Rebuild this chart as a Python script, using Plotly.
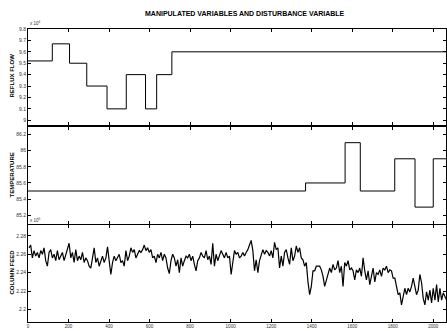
import numpy as np
import plotly.graph_objects as go

# ---- data ----
reflux_t = [0, 120, 205, 290, 390, 485, 580, 635, 710, 2066]
reflux_v = [9.52, 9.67, 9.5, 9.3, 9.1, 9.4, 9.1, 9.4, 9.6, 9.6]

temp_t = [0, 1370, 1565, 1640, 1810, 1910, 2000, 2066]
temp_v = [85.5, 85.6, 86.1, 85.5, 85.9, 85.3, 85.9, 85.9]

feed_v = [
    2.267, 2.270, 2.256, 2.264, 2.258, 2.262, 2.256, 2.264, 2.260, 2.267,
    2.253, 2.247, 2.262, 2.265, 2.256, 2.260, 2.253, 2.264, 2.254, 2.258,
    2.262, 2.253, 2.260, 2.267, 2.272, 2.256, 2.262, 2.251, 2.265, 2.253,
    2.258, 2.254, 2.262, 2.251, 2.256, 2.253, 2.247, 2.245, 2.258, 2.267,
    2.251, 2.256, 2.247, 2.253, 2.258, 2.251, 2.256, 2.268, 2.249, 2.238,
    2.251, 2.258, 2.253, 2.256, 2.260, 2.251, 2.253, 2.247, 2.264, 2.253,
    2.258, 2.267, 2.262, 2.265, 2.256, 2.260, 2.264, 2.262, 2.265, 2.270,
    2.264, 2.267, 2.262, 2.265, 2.256, 2.258, 2.251, 2.260, 2.256, 2.262,
    2.253, 2.260, 2.256, 2.245, 2.239, 2.253, 2.260, 2.256, 2.247, 2.254,
    2.240, 2.256, 2.247, 2.253, 2.258, 2.256, 2.260, 2.253, 2.258, 2.249,
    2.242, 2.253, 2.256, 2.262, 2.258, 2.256, 2.264, 2.254, 2.258, 2.249,
    2.272, 2.247, 2.260, 2.253, 2.258, 2.264, 2.260, 2.256, 2.262, 2.256,
    2.258, 2.238, 2.251, 2.264, 2.260, 2.262, 2.256, 2.258, 2.262, 2.258,
    2.262, 2.265, 2.270, 2.275, 2.264, 2.242, 2.254, 2.240, 2.253, 2.258,
    2.265, 2.260, 2.264, 2.262, 2.258, 2.264, 2.256, 2.273, 2.265, 2.267,
    2.245, 2.258, 2.247, 2.262, 2.265, 2.256, 2.249, 2.267, 2.253, 2.258,
    2.269, 2.262, 2.267, 2.256, 2.254, 2.247, 2.251, 2.230, 2.216, 2.225,
    2.242, 2.242, 2.247, 2.247, 2.247, 2.243, 2.236, 2.225, 2.232, 2.240,
    2.245, 2.240, 2.249, 2.243, 2.245, 2.253, 2.240, 2.247, 2.225, 2.251,
    2.247, 2.253, 2.243, 2.245, 2.242, 2.232, 2.243, 2.240, 2.245, 2.236,
    2.256, 2.242, 2.232, 2.242, 2.227, 2.236, 2.245, 2.230, 2.240, 2.238,
    2.243, 2.236, 2.245, 2.243, 2.247, 2.240, 2.243, 2.242, 2.234, 2.234,
    2.223, 2.216, 2.218, 2.205, 2.214, 2.223, 2.216, 2.223, 2.219, 2.225,
    2.234, 2.223, 2.216, 2.221, 2.238, 2.229, 2.212, 2.205, 2.219, 2.210,
    2.221, 2.207, 2.223, 2.210, 2.227, 2.208, 2.223, 2.210, 2.218, 2.214,
    2.210,
]
feed_t = np.linspace(5, 2066, len(feed_v))

x_ticks = [0, 200, 400, 600, 800, 1000, 1200, 1400, 1600, 1800, 2000]
reflux_ticks = [9.0, 9.1, 9.2, 9.3, 9.4, 9.5, 9.6, 9.7, 9.8]
reflux_ticktext = ["9", "9.1", "9.2", "9.3", "9.4", "9.5", "9.6", "9.7", "9.8"]
temp_ticks = [85.2, 85.4, 85.6, 85.8, 86.0, 86.2]
temp_ticktext = ["85.2", "85.4", "85.6", "85.8", "86", "86.2"]
feed_ticks = [2.20, 2.22, 2.24, 2.26, 2.28]
feed_ticktext = ["2.2", "2.22", "2.24", "2.26", "2.28"]

FONT = "Liberation Sans, Arial, sans-serif"

fig = go.Figure()
fig.add_trace(go.Scatter(x=reflux_t, y=reflux_v, mode="lines", line=dict(color="black", width=1, shape="hv"),
                         xaxis="x", yaxis="y", showlegend=False, hoverinfo="skip"))
fig.add_trace(go.Scatter(x=temp_t, y=temp_v, mode="lines", line=dict(color="black", width=1, shape="hv"),
                         xaxis="x2", yaxis="y2", showlegend=False, hoverinfo="skip"))
fig.add_trace(go.Scatter(x=feed_t, y=feed_v, mode="lines", line=dict(color="black", width=1.2),
                         xaxis="x3", yaxis="y3", showlegend=False, hoverinfo="skip"))

common_axis = dict(showline=True, linecolor="black", linewidth=1, mirror="allticks",
                   ticks="inside", ticklen=3, tickwidth=0.8, tickcolor="black",
                   showgrid=False, zeroline=False)
xr = [0, 2063]
tickfont = dict(family=FONT, size=5, color="#333")

fig.update_layout(
    width=447, height=331,
    margin=dict(l=28, r=1, t=29, b=9),
    paper_bgcolor="white", plot_bgcolor="white",
    xaxis=dict(domain=[0, 1], anchor="y", range=xr, tickvals=x_ticks, showticklabels=False, **common_axis),
    xaxis2=dict(domain=[0, 1], anchor="y2", range=xr, tickvals=x_ticks, showticklabels=False, **common_axis),
    xaxis3=dict(domain=[0, 1], anchor="y3", range=xr, tickvals=x_ticks, showticklabels=True,
                tickfont=dict(family=FONT, size=4.5, color="#333"), **common_axis),
    yaxis=dict(domain=[0.671, 1.0], anchor="x", range=[8.955, 9.8], tickvals=reflux_ticks,
               ticktext=reflux_ticktext, tickfont=tickfont, **common_axis),
    yaxis2=dict(domain=[0.336, 0.667], anchor="x2", range=[85.096, 86.30], tickvals=temp_ticks,
                ticktext=temp_ticktext, tickfont=tickfont, **common_axis),
    yaxis3=dict(domain=[0.0, 0.331], anchor="x3", range=[2.1863, 2.2918], tickvals=feed_ticks,
                ticktext=feed_ticktext, tickfont=tickfont, **common_axis),
)

title_font = dict(family=FONT, size=7, color="black")
ylab_font = dict(family=FONT, size=6, color="black")
ann = [
    dict(text="<b>MANIPULATED VARIABLES AND DISTURBANCE VARIABLE</b>", x=245 / 447, y=1 - 14 / 331,
         font=title_font),
    dict(text="<b>REFLUX FLOW</b>", x=11.5 / 447, y=1 - 76 / 331, textangle=-90, font=ylab_font),
    dict(text="<b>TEMPERATURE</b>", x=11.5 / 447, y=1 - 175 / 331, textangle=-90, font=ylab_font),
    dict(text="<b>COLUMN FEED</b>", x=11.5 / 447, y=1 - 272 / 331, textangle=-90, font=ylab_font),
    dict(text="x 10<sup>4</sup>", x=28 / 447, y=1 - 23 / 331, xanchor="left",
         font=dict(family=FONT, size=4.5, color="#333")),
    dict(text="x 10<sup>5</sup>", x=28 / 447, y=1 - 220 / 331, xanchor="left",
         font=dict(family=FONT, size=4.5, color="#333")),
]
pl, pr, pt, pb = 28, 1, 29, 9
pw, ph = 447 - pl - pr, 331 - pt - pb
for a in ann:
    a.setdefault("xanchor", "center")
    px = a["x"] * 447
    py = (1 - a["y"]) * 331
    a["x"] = (px - pl) / pw
    a["y"] = 1 - (py - pt) / ph
    a.update(xref="paper", yref="paper", showarrow=False, yanchor="middle")
    fig.add_annotation(**a)

fig.write_html("out.html")
